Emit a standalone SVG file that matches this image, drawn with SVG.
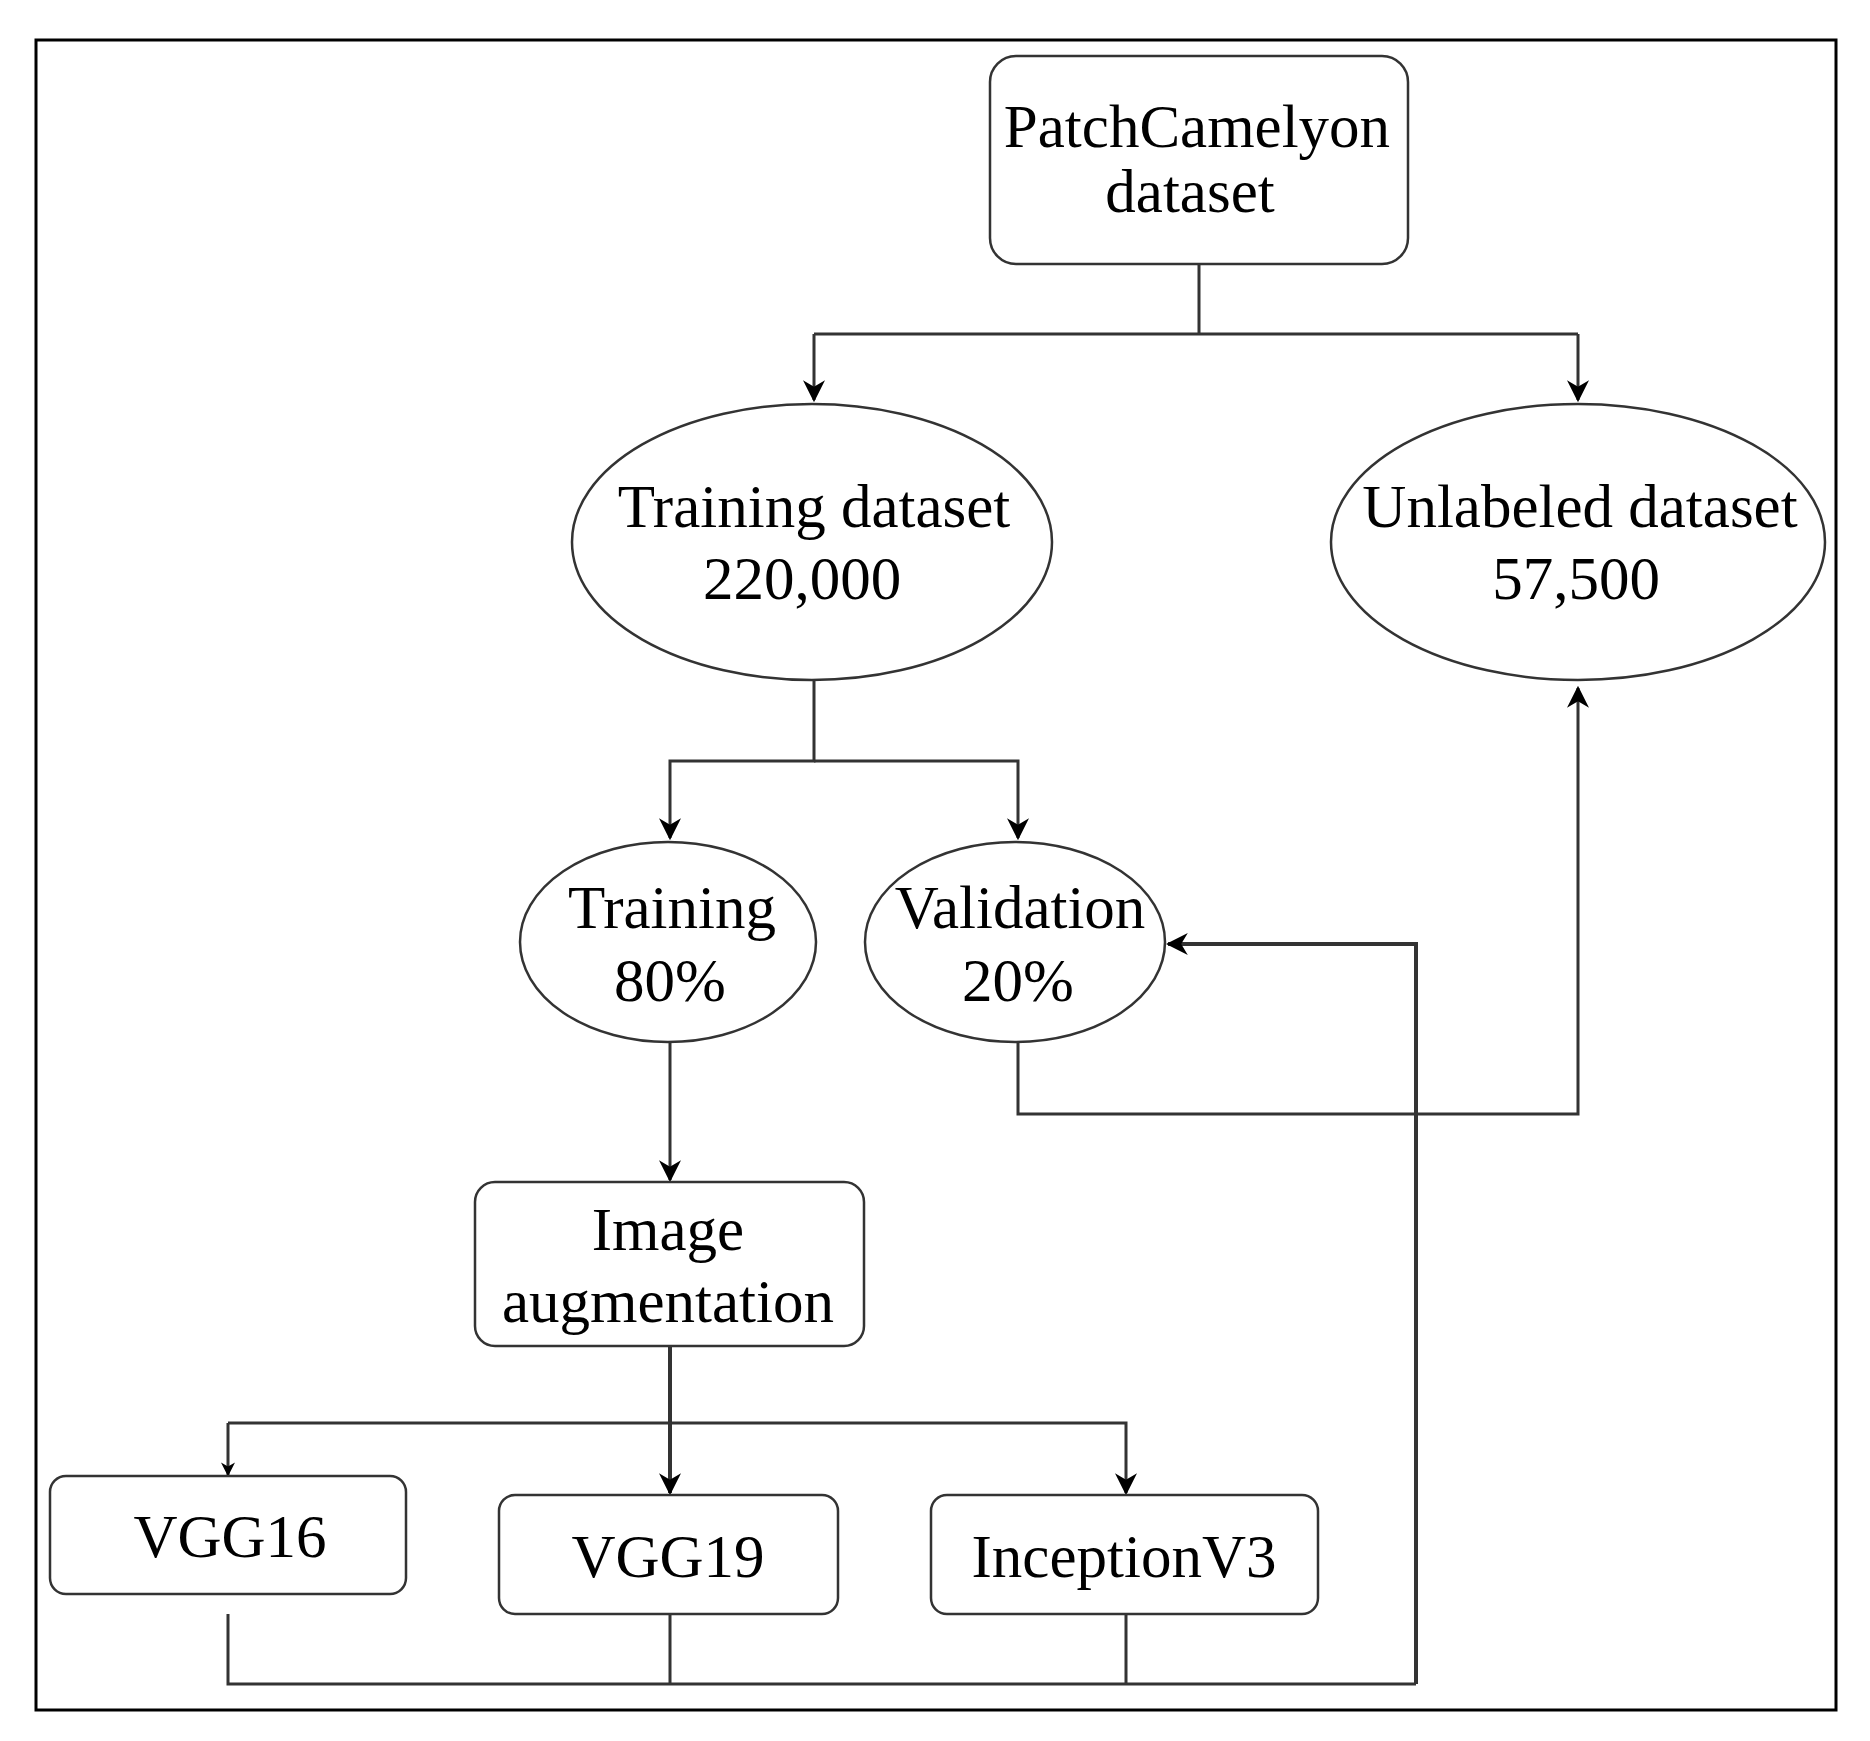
<svg xmlns="http://www.w3.org/2000/svg" width="1870" height="1741" viewBox="0 0 1870 1741">
<style>
.n{fill:#fff;stroke:#333;stroke-width:2.5}
.t{font-family:"Liberation Serif",serif;font-size:61px;fill:#000;text-anchor:middle}
.c{fill:none;stroke:#333;stroke-width:3}
</style>
<defs><marker id="b" viewBox="0 0 10 10" refX="9" refY="5" markerWidth="22" markerHeight="22" markerUnits="userSpaceOnUse" orient="auto"><path d="M0,0L10,5L0,10L3,5z" fill="#000"/></marker>
<marker id="s" viewBox="0 0 10 10" refX="9" refY="5" markerWidth="14" markerHeight="14" markerUnits="userSpaceOnUse" orient="auto"><path d="M0,0L10,5L0,10L3,5z" fill="#000"/></marker></defs>
<rect x="0" y="0" width="1870" height="1741" fill="#fff"/>
<rect x="36" y="40" width="1800" height="1670" fill="none" stroke="#000" stroke-width="3"/>
<g id="connectors">
<path class="c" d="M1199,264V334M814,334H1578M814,334V400" marker-end="url(#b)"/>
<path class="c" d="M1578,334V400" marker-end="url(#b)"/>
<path class="c" d="M814,680V761H670V838" marker-end="url(#b)"/>
<path class="c" d="M814,761H1018V838" marker-end="url(#b)"/>
<path class="c" d="M670,1042V1180" marker-end="url(#b)"/>
<path class="c" d="M1018,1042V1114H1578V688" marker-end="url(#b)"/>
<path class="c" d="M670,1346V1493" marker-end="url(#b)" style="stroke-width:4"/>
<path class="c" d="M228,1423V1475" marker-end="url(#s)"/>
<path class="c" d="M228,1423H1126V1493" marker-end="url(#b)"/>
<path class="c" d="M228,1614V1684H1416M670,1614V1684M1126,1614V1684"/>
<path class="c" d="M1416,1684V944H1168" marker-end="url(#b)" style="stroke-width:4"/>
</g>
<g id="patchcamelyon"><rect class="n" x="990" y="56" width="418" height="208" rx="26"/><text class="t" x="1197" y="147">PatchCamelyon</text><text class="t" x="1190" y="212">dataset</text></g>
<g id="training-dataset"><ellipse class="n" cx="812" cy="542" rx="240" ry="138"/><text class="t" x="814" y="527">Training dataset</text><text class="t" x="802" y="599">220,000</text></g>
<g id="unlabeled"><ellipse class="n" cx="1578" cy="542" rx="247" ry="138"/><text class="t" x="1580" y="527">Unlabeled dataset</text><text class="t" x="1576" y="599">57,500</text></g>
<g id="training"><ellipse class="n" cx="668" cy="942" rx="148" ry="100"/><text class="t" x="672" y="928">Training</text><text class="t" x="670" y="1001">80%</text></g>
<g id="validation"><ellipse class="n" cx="1015" cy="942" rx="150" ry="100"/><text class="t" x="1020" y="928">Validation</text><text class="t" x="1018" y="1001">20%</text></g>
<g id="augmentation"><rect class="n" x="475" y="1182" width="389" height="164" rx="20"/><text class="t" x="668" y="1250">Image</text><text class="t" x="668" y="1322">augmentation</text></g>
<g id="vgg16"><rect class="n" x="50" y="1476" width="356" height="118" rx="16"/><text class="t" x="230" y="1557">VGG16</text></g>
<g id="vgg19"><rect class="n" x="499" y="1495" width="339" height="119" rx="16"/><text class="t" x="668" y="1577">VGG19</text></g>
<g id="inceptionv3"><rect class="n" x="931" y="1495" width="387" height="119" rx="16"/><text class="t" x="1124" y="1577">InceptionV3</text></g>
</svg>
